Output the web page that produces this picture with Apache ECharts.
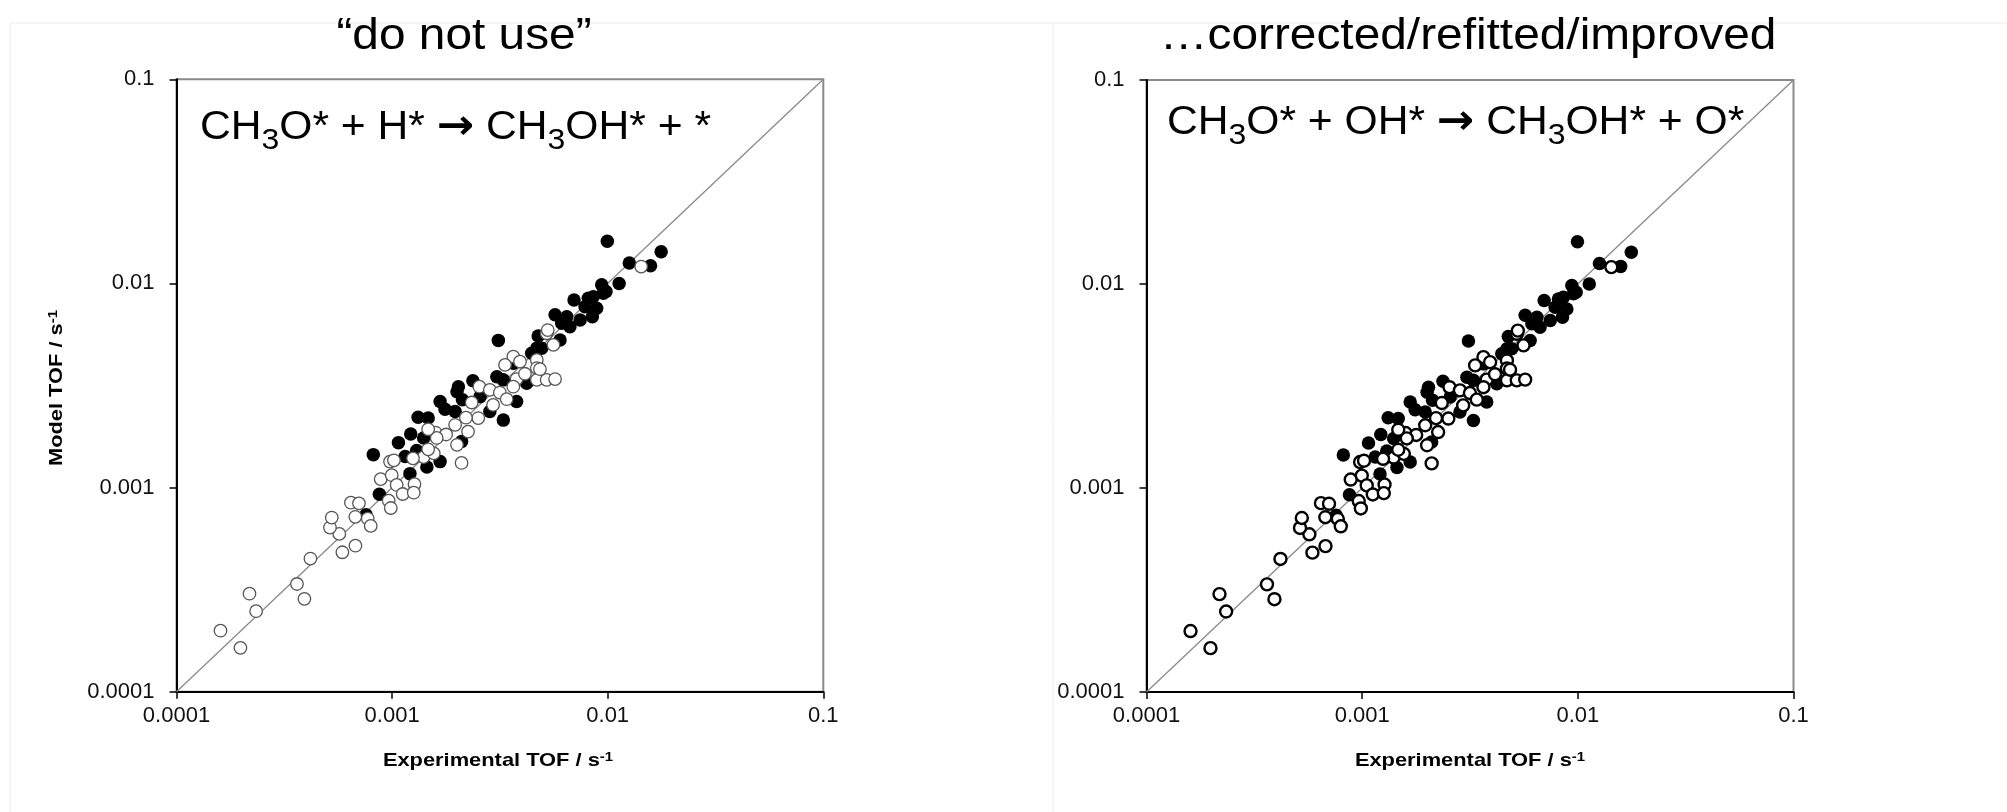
<!DOCTYPE html>
<html>
<head>
<meta charset="utf-8">
<script src="https://cdn.jsdelivr.net/npm/echarts@6/dist/echarts.min.js"></script>
<style>
html, body { margin: 0; padding: 0; background: #fff; }
#chart { width: 2007px; height: 812px; }
</style>
</head>
<body>
<div id="chart"></div>
<script>
// axis ticks (decades) and their labels
var tickValues = [0.0001, 0.001, 0.01, 0.1]
var tickLabels = ['0.0001', '0.001', '0.01', '0.1']

var panelTitles = ['\u201cdo not use\u201d', '\u2026corrected/refitted/improved']
var reactions = [
  '{t|CH}{s|3}{t|O* + H* }{a|\u2192}{t| CH}{s|3}{t|OH* + *}',
  '{t|CH}{s|3}{t|O* + OH* }{a|\u2192}{t| CH}{s|3}{t|OH* + O*}'
]
var xName = 'Experimental TOF / s'
var yName = 'Model TOF / s'

// parity line y = x
var parityLine = [[0.0001, 0.0001], [0.1, 0.1]]

// [experimental, model] TOF, black markers
var filledPoints = [
  [9.96e-3, 1.61e-2], [1.77e-2, 1.43e-2], [1.26e-2, 1.26e-2], [1.58e-2, 1.22e-2],
  [1.13e-2, 1.00e-2], [9.38e-3, 9.84e-3], [9.82e-3, 9.12e-3], [6.98e-3, 8.30e-3],
  [8.57e-3, 8.61e-3], [7.85e-3, 7.69e-3], [8.89e-3, 7.55e-3], [8.49e-3, 6.87e-3],
  [5.70e-3, 7.02e-3], [6.46e-3, 6.87e-3], [6.12e-3, 6.38e-3], [7.45e-3, 6.62e-3],
  [6.68e-3, 6.14e-3], [4.76e-3, 5.53e-3], [6.01e-3, 5.28e-3], [4.69e-3, 4.82e-3],
  [3.11e-3, 5.26e-3], [4.44e-3, 4.55e-3], [4.94e-3, 4.82e-3], [3.06e-3, 3.49e-3],
  [3.28e-3, 3.37e-3], [2.37e-3, 3.34e-3], [2.03e-3, 3.12e-3], [2.00e-3, 2.95e-3],
  [2.12e-3, 2.69e-3], [1.67e-3, 2.64e-3], [1.76e-3, 2.42e-3], [1.32e-3, 2.21e-3],
  [1.47e-3, 2.19e-3], [1.96e-3, 2.36e-3], [2.56e-3, 2.79e-3], [2.84e-3, 2.36e-3],
  [3.28e-3, 2.14e-3], [3.78e-3, 2.64e-3], [4.21e-3, 3.24e-3], [1.22e-3, 1.83e-3],
  [1.07e-3, 1.66e-3], [1.40e-3, 1.75e-3], [1.67e-3, 1.34e-3], [1.45e-3, 1.26e-3],
  [1.21e-3, 1.17e-3], [1.15e-3, 1.42e-3], [2.10e-3, 1.68e-3], [3.65e-3, 4.06e-3],
  [8.18e-4, 1.45e-3], [8.73e-4, 9.27e-4], [7.57e-4, 7.36e-4], [1.30e-3, 1.52e-3],
  [8.13e-3, 8.45e-3], [9.55e-3, 8.95e-3]
]

// [experimental, model] TOF, white markers
var openPoints = [
  [1.60e-4, 1.99e-4], [1.98e-4, 1.64e-4], [2.18e-4, 3.02e-4], [2.34e-4, 2.48e-4],
  [3.62e-4, 3.37e-4], [3.92e-4, 2.85e-4], [4.18e-4, 4.49e-4], [5.88e-4, 4.82e-4],
  [6.76e-4, 5.19e-4], [5.69e-4, 5.93e-4], [5.15e-4, 6.37e-4], [5.25e-4, 7.13e-4],
  [6.44e-4, 8.43e-4], [7.02e-4, 8.37e-4], [6.75e-4, 7.19e-4], [7.71e-4, 7.05e-4],
  [7.96e-4, 6.49e-4], [9.64e-4, 8.63e-4], [9.86e-4, 7.94e-4], [8.85e-4, 1.10e-3],
  [9.96e-4, 1.15e-3], [1.05e-3, 1.03e-3], [1.12e-3, 9.30e-4], [1.27e-3, 1.04e-3],
  [1.26e-3, 9.44e-4], [9.78e-4, 1.34e-3], [1.02e-3, 1.36e-3], [1.40e-3, 1.41e-3],
  [1.56e-3, 1.47e-3], [1.59e-3, 1.86e-3], [1.78e-3, 1.82e-3], [1.47e-3, 1.54e-3],
  [3.65e-3, 4.38e-3], [3.34e-3, 3.99e-3], [3.92e-3, 4.14e-3], [4.69e-3, 4.22e-3],
  [4.69e-3, 3.85e-3], [3.78e-3, 3.40e-3], [4.69e-3, 3.37e-3], [5.21e-3, 3.37e-3],
  [5.70e-3, 3.40e-3], [5.60e-3, 5.00e-3], [5.21e-3, 5.70e-3], [2.54e-3, 3.12e-3],
  [2.84e-3, 3.01e-3], [3.16e-3, 2.92e-3], [3.40e-3, 2.71e-3], [2.34e-3, 2.61e-3],
  [2.94e-3, 2.54e-3], [2.51e-3, 2.19e-3], [2.20e-3, 2.20e-3], [1.96e-3, 2.03e-3],
  [2.25e-3, 1.88e-3], [1.61e-3, 1.75e-3], [2.00e-3, 1.62e-3], [1.25e-3, 1.39e-3],
  [2.10e-3, 1.32e-3], [1.43e-2, 1.21e-2], [5.27e-3, 5.91e-3], [4.85e-3, 3.80e-3],
  [4.13e-3, 3.61e-3], [3.65e-3, 3.12e-3], [1.47e-3, 1.93e-3]
]

var font = 'Liberation Sans, Arial, sans-serif'

function labelFormatter(v) {
  return tickLabels[Math.round(Math.log10(v)) + 4]
}

function makeAxis(idx, isX) {
  return {
    type: 'log',
    logBase: 10,
    gridIndex: idx,
    min: tickValues[0],
    max: tickValues[tickValues.length - 1],
    axisLine: { show: true, onZero: false, lineStyle: { color: '#000', width: 2 } },
    axisTick: { show: true, inside: false, length: 7, lineStyle: { color: '#000', width: 1.5 } },
    minorTick: { show: false },
    splitLine: { show: false },
    minorSplitLine: { show: false },
    axisLabel: {
      formatter: labelFormatter,
      showMinLabel: true,
      showMaxLabel: true,
      fontSize: 22,
      fontFamily: font,
      color: '#111',
      margin: isX ? 13 : 22
    }
  }
}

function makeSeries(idx, openBorder, openWidth) {
  return [
    {
      type: 'line',
      xAxisIndex: idx,
      yAxisIndex: idx,
      data: parityLine,
      showSymbol: false,
      symbol: 'none',
      silent: true,
      lineStyle: { color: '#8a8a8a', width: 1.3 },
      z: 1
    },
    {
      type: 'scatter',
      xAxisIndex: idx,
      yAxisIndex: idx,
      data: filledPoints,
      symbol: 'circle',
      symbolSize: 13.5,
      silent: true,
      itemStyle: { color: '#000', opacity: 1 },
      z: 2
    },
    {
      type: 'scatter',
      xAxisIndex: idx,
      yAxisIndex: idx,
      data: openPoints,
      symbol: 'circle',
      symbolSize: openWidth > 2 ? 12 : 12.5,
      silent: true,
      itemStyle: { color: '#fff', borderColor: openBorder, borderWidth: openWidth, opacity: 1 },
      z: 3
    }
  ]
}

function titleText(text, x, y) {
  return {
    type: 'text', x: x, y: y, scaleX: 1.087, z: 10,
    style: {
      text: text, fill: '#000', fontSize: 44, fontFamily: font,
      align: 'center', textAlign: 'center', verticalAlign: 'middle', textVerticalAlign: 'middle'
    }
  }
}

function reactionText(text, x, y) {
  return {
    type: 'text', x: x, y: y, scaleX: 1.065, z: 10,
    style: {
      text: text, fill: '#000',
      align: 'left', textAlign: 'left', verticalAlign: 'middle', textVerticalAlign: 'middle',
      rich: {
        t: { fontSize: 40, fontFamily: font, lineHeight: 56, fill: '#000' },
        a: { fontSize: 42, fontFamily: 'DejaVu Sans', fontWeight: 'bold', lineHeight: 56, fill: '#000' },
        s: { fontSize: 30, fontFamily: font, verticalAlign: 'bottom', fill: '#000' }
      }
    }
  }
}

function axisNameText(text, x, y, rot) {
  return {
    type: 'text', x: x, y: y, rotation: rot, scaleX: 1.15, z: 10,
    style: {
      text: '{b|' + text + '}{sup|-1}', fill: '#000',
      align: 'center', textAlign: 'center', verticalAlign: 'middle', textVerticalAlign: 'middle',
      rich: {
        b: { fontSize: 19, fontWeight: 'bold', fontFamily: font, lineHeight: 21, fill: '#000' },
        sup: { fontSize: 13, fontWeight: 'bold', fontFamily: font, verticalAlign: 'top', fill: '#000' }
      }
    }
  }
}

function frameLine(x1, y1, x2, y2) {
  return {
    type: 'line', silent: true, z: 0,
    shape: { x1: x1, y1: y1, x2: x2, y2: y2 },
    style: { stroke: '#ececec', lineWidth: 1 }
  }
}

var chartDom = document.getElementById('chart')
var myChart = echarts.init(chartDom, null, { renderer: 'canvas' })
var option

option = {
  animation: false,
  backgroundColor: '#fff',
  grid: [
    { left: 176.5, top: 79.3, width: 646.8, height: 612.4, show: true, borderColor: '#8a8a8a', borderWidth: 2, backgroundColor: 'transparent', containLabel: false, outerBoundsMode: 'none' },
    { left: 1146.5, top: 80, width: 647, height: 612, show: true, borderColor: '#8a8a8a', borderWidth: 2, backgroundColor: 'transparent', containLabel: false, outerBoundsMode: 'none' }
  ],
  xAxis: [makeAxis(0, true), makeAxis(1, true)],
  yAxis: [makeAxis(0, false), makeAxis(1, false)],
  series: makeSeries(0, '#555', 1.3).concat(makeSeries(1, '#000', 2.4)),
  graphic: [
    frameLine(10, 23, 2007, 23),
    frameLine(10, 23, 10, 812),
    frameLine(1053, 23, 1053, 812),
    titleText(panelTitles[0], 464, 36.5),
    titleText(panelTitles[1], 1468, 36.5),
    reactionText(reactions[0], 200, 128),
    reactionText(reactions[1], 1167, 123),
    axisNameText(xName, 498, 761, 0),
    axisNameText(xName, 1470, 761, 0),
    axisNameText(yName, 57, 388, Math.PI / 2)
  ]
}
option && myChart.setOption(option)
</script>
</body>
</html>
